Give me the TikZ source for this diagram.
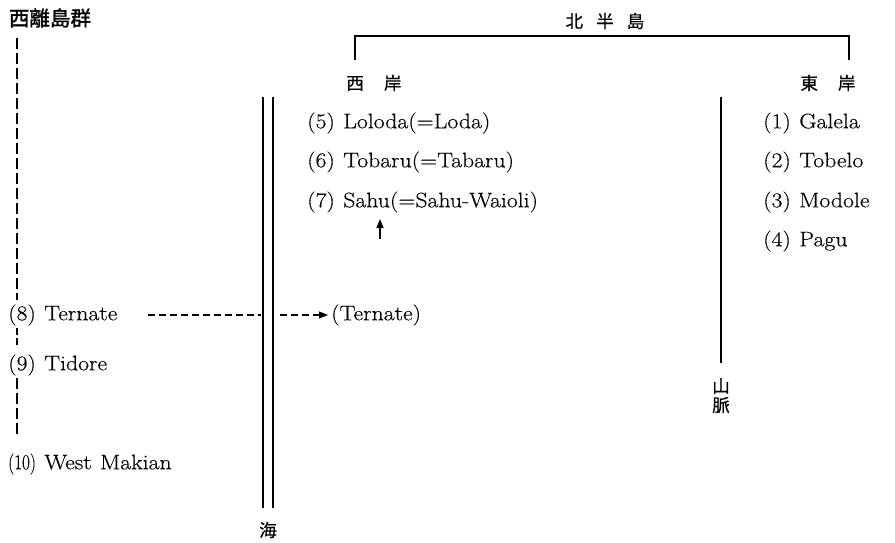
\documentclass[tikz,border=0pt]{standalone}
\usepackage{fontspec}
\setmainfont{Latin Modern Roman}[FakeStretch=1.13,FakeBold=0.35]
\newfontfamily\cjk{Noto Sans CJK JP}[FakeBold=0.6]
\newfontfamily\cjkheavy{Noto Sans CJK JP}[FakeBold=1.6]
\usetikzlibrary{arrows.meta}
\begin{document}
\begin{tikzpicture}[x=1pt,y=-1pt,
  lang/.style={anchor=west,inner sep=0pt,font=\fontsize{21}{25}\selectfont},
  kanji/.style={inner sep=0pt,font=\cjk\fontsize{17.5}{20}\selectfont},
  rule/.style={line width=1.6pt},
  isledash/.style={line width=1.5pt,dash pattern=on 11pt off 4pt},
  linkdash/.style={line width=1.1pt,dash pattern=on 7pt off 4pt},
  tip/.style={-{Triangle[length=9pt,width=7pt]}}]
\useasboundingbox (0,0) rectangle (895,543);

% headings
\node[kanji,font=\cjkheavy\fontsize{20.5}{24}\selectfont] (westgrp) at (50,18) {西離島群};
\node[kanji] (north) at (605,21) {北\hspace{0.75em}半\hspace{0.75em}島};
\node[kanji] (westcoast) at (374,83) {西\hspace{1.15em}岸};
\node[kanji] (eastcoast) at (828,83) {東\hspace{1.15em}岸};

% bracket over the two coasts
\coordinate (bl) at (355,60);
\coordinate (tl) at (355,36);
\coordinate (tr) at (849,36);
\coordinate (br) at (849,60);
\draw[rule] (bl) -- (tl) -- (tr) -- (br);

% sea: double line
\coordinate (s1t) at (263,97);
\coordinate (s1b) at (263,508);
\coordinate (s2t) at (273,97);
\coordinate (s2b) at (273,508);
\draw[rule] (s1t) -- (s1b);
\draw[rule] (s2t) -- (s2b);
\node[kanji] (sea) at (268,530) {海};

% mountain range
\coordinate (mt) at (721,97);
\coordinate (mb) at (721,363);
\draw[line width=2pt] (mt) -- (mb);
\node[kanji] (mtn1) at (721,386) {山};
\node[kanji] (mtn2) at (721,405) {脈};

% west coast languages
\node[lang] (l5) at (307,123) {(5)\hspace{0.4em}Loloda(=Loda)};
\node[lang] (l6) at (307,162) {(6)\hspace{0.4em}Tobaru(=Tabaru)};
\node[lang] (l7) at (307,202) {(7)\hspace{0.4em}Sahu(=Sahu-Waioli)};
\node[lang] (tern) at (331,315) {(Ternate)};

% east coast languages
\node[lang] (l1) at (763,123) {(1)\hspace{0.4em}Galela};
\node[lang] (l2) at (763,162) {(2)\hspace{0.4em}Tobelo};
\node[lang] (l3) at (763,202) {(3)\hspace{0.4em}Modole};
\node[lang] (l4) at (763,241) {(4)\hspace{0.4em}Pagu};

% western islands
\node[lang] (l8) at (8,315) {(8)\hspace{0.4em}Ternate};
\node[lang] (l9) at (8,365) {(9)\hspace{0.4em}Tidore};
\node[lang] (l10) at (8,464) {\scalebox{0.72}[1]{(10)}\hspace{0.4em}West\hspace{0.4em}Makian};

% dashed line linking the western islands
\coordinate (d0) at (17,38);
\coordinate (d1) at (17,300);
\coordinate (d2) at (17,328);
\coordinate (d3) at (17,348);
\coordinate (d4) at (17,378);
\coordinate (d5) at (17,437);
\draw[isledash] (d0) -- (d1);
\draw[isledash,dash pattern=on 7pt off 3pt] (d2) -- (d3);
\draw[isledash] (d4) -- (d5);

% Ternate crossing the sea
\coordinate (a0) at (148,315);
\coordinate (a1) at (261,315);
\coordinate (a2) at (280,315);
\draw[linkdash] (a0) -- (a1);
\draw[linkdash,tip] (a2) -- ([xshift=-3pt]tern.west);

% Ternate feeding into Sahu
\coordinate (u0) at (380,239);
\coordinate (u1) at (380,219);
\draw[line width=1.4pt,tip] (u0) -- (u1);
\end{tikzpicture}
\end{document}
